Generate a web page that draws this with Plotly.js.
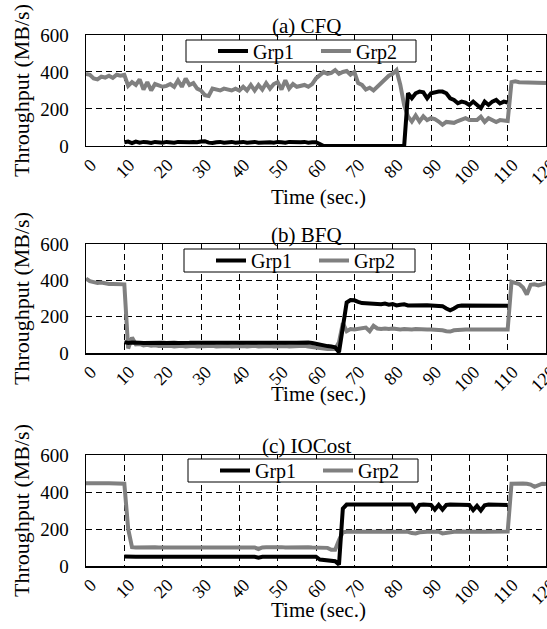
<!DOCTYPE html>
<html>
<head>
<meta charset="utf-8">
<script src="https://cdn.plot.ly/plotly-3.0.1.min.js"></script>
<style>html,body{margin:0;padding:0;background:#fff;}#chart{width:547px;height:629px;}</style>
</head>
<body>
<div id="chart"></div>
<script>
// ---- data ----
const time = [0,1,2,3,4,5,6,7,8,9,10,11,12,13,14,15,16,17,18,19,20,21,22,23,24,25,26,27,28,29,30,31,32,33,34,35,36,37,38,39,40,41,42,43,44,45,46,47,48,49,50,51,52,53,54,55,56,57,58,59,60,61,62,63,64,65,66,67,68,69,70,71,72,73,74,75,76,77,78,79,80,81,82,83,84,85,86,87,88,89,90,91,92,93,94,95,96,97,98,99,100,101,102,103,104,105,106,107,108,109,110,111,112,113,114,115,116,117,118,119,120];

const panelTitles = ['(a) CFQ', '(b) BFQ', '(c) IOCost'];
const seriesNames = ['Grp1', 'Grp2'];
const xTitle = 'Time (sec.)';
const yTitle = 'Throughput (MB/s)';

const cfqGrp1 = [null,null,null,null,null,null,null,null,null,null,
 20,24,16,24,18,22,20,16,22,20,
 18,22,20,18,22,20,18,20,22,20,
 24,26,18,16,20,22,18,20,22,18,
 20,22,18,20,22,18,20,22,20,18,
 22,20,18,22,20,18,20,22,18,20,
 20,10,0,0,0,0,0,0,0,0,
 0,0,0,0,0,0,0,0,0,0,
 0,0,0,0,285,258,285,294,290,258,
 285,290,294,294,285,258,249,231,240,235,
 222,240,222,204,240,222,240,249,230,240,
 235,null,null,null,null,null,null,null,null,null,null];
const cfqGrp2 = [390,385,365,360,375,370,380,368,385,380,
 385,325,345,330,360,305,345,300,335,330,
 320,325,335,320,355,320,365,330,340,310,
 300,275,270,310,305,300,310,305,300,310,
 300,320,300,330,300,330,305,340,310,335,
 345,305,355,310,335,320,325,330,320,335,
 365,385,400,390,395,410,390,400,405,385,
 400,340,330,305,315,300,320,340,365,380,
 390,410,330,220,160,132,165,132,160,140,
 150,145,132,115,130,130,125,135,140,150,
 140,140,140,158,130,150,140,130,140,140,
 135,345,350,345,345,345,345,340,345,340,340];

const bfqGrp1 = [null,null,null,null,null,null,null,null,null,null,
 60,55,58,55,57,55,56,55,57,55,
 56,55,57,56,55,57,55,56,57,55,
 56,57,55,56,57,56,55,57,58,56,
 57,58,56,57,58,57,56,58,57,56,
 58,57,56,58,57,56,58,60,58,55,
 50,45,42,38,36,32,4,130,278,292,
 290,282,275,274,272,275,270,268,272,266,
 270,262,266,268,262,263,262,264,262,263,
 262,262,260,258,245,235,245,258,262,262,
 260,262,260,262,260,262,260,261,260,262,
 260,null,null,null,null,null,null,null,null,null,null];
const bfqGrp2 = [410,395,390,385,388,382,380,380,380,380,
 378,25,85,48,50,42,45,40,42,38,
 40,38,40,36,38,40,36,38,40,36,
 38,36,38,40,36,38,36,38,36,38,
 36,38,36,38,40,36,38,36,38,36,
 38,36,38,36,38,36,38,40,36,32,
 30,28,25,22,20,22,60,165,120,132,
 130,132,135,140,120,150,135,132,135,132,
 135,132,130,132,130,130,132,130,130,130,
 130,130,128,125,120,118,125,128,130,130,
 130,130,130,130,130,130,130,130,130,130,
 130,392,385,380,360,322,375,378,372,380,385];

const iocGrp1 = [null,null,null,null,null,null,null,null,null,null,
 52,50,51,50,50,51,50,50,51,50,
 50,51,50,50,51,50,50,51,50,50,
 51,50,50,51,50,50,51,50,50,51,
 50,50,51,50,50,45,50,51,50,50,
 51,50,50,51,50,50,51,50,50,51,
 50,35,32,30,30,26,8,310,332,332,
 332,332,332,331,332,332,332,331,332,332,
 332,332,331,332,332,332,300,330,332,332,
 330,305,330,305,330,332,332,331,332,332,
 330,302,325,300,328,332,332,331,332,332,
 330,null,null,null,null,null,null,null,null,null,null];
const iocGrp2 = [448,447,448,448,447,448,448,447,448,447,
 445,200,102,100,101,100,102,100,101,100,
 100,102,100,101,100,100,102,100,101,100,
 100,102,100,101,100,100,102,100,101,100,
 100,102,100,101,100,92,100,101,102,100,
 100,102,100,101,100,100,102,100,101,100,
 100,102,100,98,88,88,140,182,185,185,
 185,186,185,185,186,185,185,186,185,185,
 185,185,186,185,185,178,176,182,185,185,
 185,186,185,176,180,185,185,186,185,185,
 185,185,186,185,185,185,186,185,185,185,
 186,445,447,447,446,445,440,428,438,445,443];

const panelData = [[cfqGrp1, cfqGrp2], [bfqGrp1, bfqGrp2], [iocGrp1, iocGrp2]];

// ---- styling ----
const FONT = 'Liberation Serif, Times New Roman, serif';
const colors = ['#000000', '#808080'];
const W = 547, H = 629, ML = 86, MR = 1, MT = 35, MB = 63;
const yDomains = [[0.791, 1], [0.4011, 0.6064], [0, 0.2090]];
// legend boxes in pixel terms [left, top, right, bottom]
const legendBoxes = [[186, 40, 416, 62], [184, 249, 415, 272], [188, 459, 418, 482]];
const xTitleY = [197, 394, 610];
const pw = W - ML - MR, ph = H - MT - MB;
const px2x = v => (v - ML) / pw;
const px2y = v => (H - MB - v) / ph;

const traces = [];
const layout = {
  width: W, height: H,
  margin: {l: ML, r: MR, t: MT, b: MB},
  paper_bgcolor: '#ffffff', plot_bgcolor: '#ffffff',
  showlegend: true,
  annotations: [], shapes: []
};

for (let p = 0; p < 3; p++) {
  const sfx = p === 0 ? '' : String(p + 1);
  const legName = 'legend' + sfx;
  for (const s of [1, 0]) {
    traces.push({
      x: time, y: panelData[p][s], type: 'scatter', mode: 'lines',
      name: seriesNames[s], legend: legName, legendrank: s + 1,
      xaxis: 'x' + sfx, yaxis: 'y' + sfx,
      line: {color: colors[s], width: 4},
      connectgaps: false, hoverinfo: 'skip'
    });
  }
  layout['xaxis' + sfx] = {
    anchor: 'y' + sfx, domain: [0, 1], range: [0, 120], dtick: 10, tick0: 0,
    tickangle: -45, showline: true, mirror: true, linecolor: '#000', linewidth: 1.5,
    showgrid: true, gridcolor: '#000', griddash: '6px,4px', gridwidth: 1,
    zeroline: false, ticks: '',
    automargin: false, ticklabeloverflow: 'allow', ticklabelshift: 5,
    tickfont: {family: FONT, size: 18, color: '#000'}
  };
  layout['yaxis' + sfx] = {
    anchor: 'x' + sfx, domain: yDomains[p], range: [0, 600], dtick: 200, tick0: 0,
    showline: true, mirror: true, linecolor: '#000', linewidth: 1.5,
    showgrid: true, gridcolor: '#000', griddash: '6px,4px', gridwidth: 1,
    zeroline: false, ticks: '', automargin: false, ticklabelstandoff: 12,
    tickfont: {family: FONT, size: 19, color: '#000'},
    title: {text: yTitle, font: {family: FONT, size: 22, color: '#000'}, standoff: 4}
  };
  const b = legendBoxes[p];
  layout.shapes.push({
    type: 'rect', xref: 'paper', yref: 'paper', layer: 'above',
    x0: px2x(b[0]), x1: px2x(b[2]), y0: px2y(b[3]), y1: px2y(b[1]),
    fillcolor: '#fff', line: {color: '#000', width: 1}
  });
  layout[legName] = {
    x: px2x(b[0] + 27), y: px2y((b[1] + b[3]) / 2), xanchor: 'left', yanchor: 'middle',
    orientation: 'h', bgcolor: 'rgba(0,0,0,0)', borderwidth: 0,
    entrywidth: 58, entrywidthmode: 'pixels',
    font: {family: FONT, size: 20, color: '#000'}
  };
  layout.annotations.push({
    text: panelTitles[p], xref: 'paper', yref: 'paper',
    x: 0.4783, y: yDomains[p][1], xanchor: 'center', yanchor: 'bottom', yshift: -5,
    showarrow: false, font: {family: FONT, size: 21, color: '#000'}
  });
  layout.annotations.push({
    text: xTitle, xref: 'paper', yref: 'paper',
    x: px2x(318), y: px2y(xTitleY[p]), xanchor: 'center', yanchor: 'middle',
    showarrow: false, font: {family: FONT, size: 21, color: '#000'}
  });
}

Plotly.newPlot('chart', traces, layout, {staticPlot: true, displayModeBar: false});
</script>
</body>
</html>
